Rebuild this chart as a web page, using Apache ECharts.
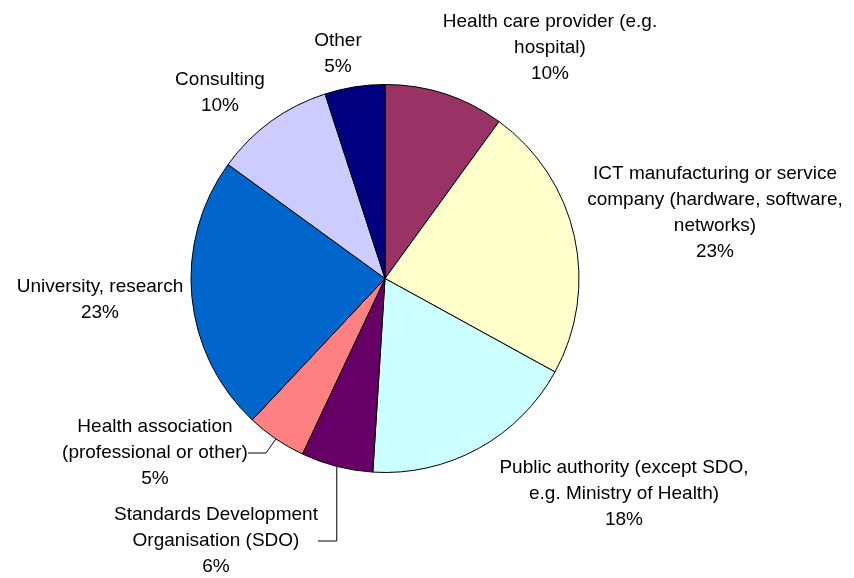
<!DOCTYPE html>
<html>
<head>
<meta charset="utf-8">
<script src="https://cdn.jsdelivr.net/npm/echarts@6/dist/echarts.min.js"></script>
<style>
  html, body { margin: 0; padding: 0; background: #fff; }
  #chart { width: 854px; height: 578px; }
</style>
</head>
<body>
<div id="chart"></div>
<script>
// Respondent organisation types, share of responses in percent (clockwise from 12 o'clock)
const categories = [
  'Health care provider (e.g.\nhospital)',
  'ICT manufacturing or service\ncompany (hardware, software,\nnetworks)',
  'Public authority (except SDO,\ne.g. Ministry of Health)',
  'Standards Development\nOrganisation (SDO)',
  'Health association\n(professional or other)',
  'University, research',
  'Consulting',
  'Other'
];
const shares = [10, 23, 18, 6, 5, 23, 10, 5];

// Slice fills
const sliceColors = ['#993366', '#FFFFCC', '#CCFFFF', '#660066', '#FF8080', '#0066CC', '#CCCCFF', '#000080'];

// Label block centres (px) and which labels get a leader line
const labelCentres = [
  [550, 48], [715, 213], [624, 494], [216, 541],
  [155, 453], [100, 300], [220, 93], [338, 54]
];
const leaderLength = [0, 0, 0, 21, 18, 0, 0, 0];

const chart = echarts.init(document.getElementById('chart'), null, { renderer: 'canvas' });

const data = categories.map((name, i) => ({
  name: name,
  value: shares[i],
  itemStyle: { color: sliceColors[i] },
  labelLine: leaderLength[i] > 0
    ? { show: true, length: 10, length2: leaderLength[i] }
    : { show: false }
}));

chart.setOption({
  animation: false,
  backgroundColor: '#ffffff',
  series: [{
    type: 'pie',
    center: [385, 278.5],
    radius: 194,
    startAngle: 90,
    clockwise: true,
    avoidLabelOverlap: false,
    silent: true,
    data: data,
    itemStyle: { borderColor: '#000000', borderWidth: 1 },
    label: {
      show: true,
      position: 'outside',
      formatter: p => p.name + '\n' + p.value + '%',
      fontFamily: '"Liberation Sans", Arial, sans-serif',
      fontSize: 19,
      lineHeight: 26,
      color: '#000000',
      align: 'center'
    },
    labelLine: {
      smooth: false,
      lineStyle: { color: '#000000', width: 1 }
    },
    labelLayout: params => ({
      x: labelCentres[params.dataIndex][0],
      y: labelCentres[params.dataIndex][1],
      align: 'center',
      verticalAlign: 'middle'
    }),
    emphasis: { disabled: true }
  }]
});
</script>
</body>
</html>
